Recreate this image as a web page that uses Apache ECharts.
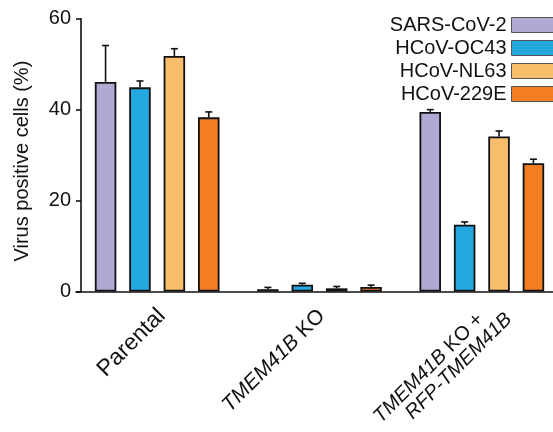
<!DOCTYPE html>
<html>
<head>
<meta charset="utf-8">
<script src="https://cdn.jsdelivr.net/npm/echarts@6/dist/echarts.min.js"></script>
<style>html,body{margin:0;padding:0;background:#fff;}#c{width:553px;height:432px;}</style>
</head>
<body>
<div id="c"></div>
<script>
const categories = ['Parental', 'TMEM41B KO', 'TMEM41B KO + RFP-TMEM41B'];
const seriesNames = ['SARS-CoV-2', 'HCoV-OC43', 'HCoV-NL63', 'HCoV-229E'];
const sarsVals = [46.1, 0.5, 39.5];
const sarsErr  = [8.0, 0.4, 0.5];
const oc43Vals = [44.9, 1.5, 14.7];
const oc43Err  = [1.4, 0.3, 0.6];
const nl63Vals = [51.8, 0.7, 34.1];
const nl63Err  = [1.6, 0.4, 1.2];
const e229Vals = [38.3, 1.0, 28.2];
const e229Err  = [1.2, 0.4, 0.9];
const yTicks = [0, 20, 40, 60];

const colors = ['#B1A9D3', '#23A8E0', '#F9BE6C', '#F37E22'];
const labelMarkup = [
  '{a|Parental}',
  '{bi|TMEM41B}{bn| KO}',
  '{ci|TMEM41B}{cp| KO +}\n{cr|RFP-TMEM41B}'
];
const vals = [sarsVals, oc43Vals, nl63Vals, e229Vals];
const errs = [sarsErr, oc43Err, nl63Err, e229Err];

const BAR_W = 21.5, BAR_GAP = 0.6;
const FONT = 'Liberation Sans, Arial, Helvetica, sans-serif';
const INK = '#111';

const barSeries = seriesNames.map((name, s) => ({
  name, type: 'bar', data: vals[s], barWidth: BAR_W, barGap: (BAR_GAP * 100) + '%',
  itemStyle: { color: colors[s], borderColor: INK, borderWidth: 1.8 },
  z: 2
}));

const errData = [];
vals.forEach((arr, s) => arr.forEach((v, c) => errData.push([c, v, errs[s][c], s])));

const errSeries = {
  type: 'custom', name: 'err', z: 3,
  data: errData,
  encode: { x: 0, y: 1 },
  renderItem: (params, api) => {
    const c = api.value(0), v = api.value(1), e = api.value(2), s = api.value(3);
    const step = BAR_W * (1 + BAR_GAP);
    const off = (s - 1.5) * step;
    const p0 = api.coord([c, v]);
    const p1 = api.coord([c, v + e]);
    const x = p0[0] + off;
    const style = { stroke: INK, lineWidth: 1.6, fill: null };
    return { type: 'group', children: [
      { type: 'line', shape: { x1: x, y1: p0[1], x2: x, y2: p1[1] }, style },
      { type: 'line', shape: { x1: x - 3.5, y1: p1[1], x2: x + 3.5, y2: p1[1] }, style }
    ]};
  }
};

const rt = (size, italic, padding) => ({ fontSize: size, fontFamily: FONT, color: INK,
  fontStyle: italic ? 'italic' : 'normal', padding });

const chart = echarts.init(document.getElementById('c'));
chart.setOption({
  animation: false,
  backgroundColor: '#fff',
  textStyle: { fontFamily: FONT },
  grid: { left: 76, top: 18.7, width: 487, height: 272.8, containLabel: false, outerBoundsMode: 'none' },
  legend: {
    data: seriesNames, orient: 'vertical', right: -19, top: 10, align: 'right',
    itemWidth: 55, itemHeight: 15, itemGap: 3, icon: 'rect',
    itemStyle: { borderColor: '#555', borderWidth: 1 },
    textStyle: { fontSize: 20, color: INK, fontFamily: FONT, lineHeight: 20 }
  },
  xAxis: {
    type: 'category', data: categories,
    axisLine: { lineStyle: { color: INK, width: 1.6 } },
    axisTick: { alignWithLabel: true, length: 5, lineStyle: { color: INK, width: 1.6 } },
    axisLabel: {
      interval: 0, rotate: 45, margin: -2, color: INK, fontSize: 20, fontFamily: FONT,
      formatter: (v, i) => labelMarkup[i],
      rich: {
        a: rt(23, false, [39, 13, 0, 0]),
        bi: rt(21, true, [36, 0, 0, 0]),
        bn: rt(21, false, [36, 15, 0, 0]),
        ci: rt(20, true, [56, 0, 0, 0]),
        cp: rt(20, false, [56, 20, 0, 0]),
        cr: rt(20, true, [0, 0, 0, 0])
      }
    }
  },
  yAxis: {
    type: 'value', min: yTicks[0], max: yTicks[yTicks.length - 1], interval: yTicks[1] - yTicks[0],
    offset: -5,
    name: 'Virus positive cells (%)', nameLocation: 'middle', nameGap: 49,
    nameTextStyle: { fontSize: 20, color: INK, fontFamily: FONT, padding: [0, 12, 0, 0] },
    axisLine: { show: true, lineStyle: { color: INK, width: 1.6 } },
    axisTick: { show: true, length: 5, lineStyle: { color: INK, width: 1.6 } },
    axisLabel: { fontSize: 20, color: INK, margin: 10, fontFamily: FONT },
    splitLine: { show: false }
  },
  series: [...barSeries, errSeries]
});
</script>
</body>
</html>
